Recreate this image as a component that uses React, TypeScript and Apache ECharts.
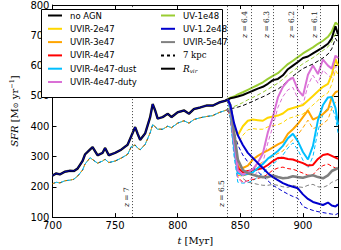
import React, { useEffect, useRef } from 'react';
import * as echarts from 'echarts';

// shared history before the AGN switch-on (t < 840 Myr)
const tPre = [700, 703, 706, 710, 714, 717, 720, 724, 726, 730, 732, 736, 740, 742, 745, 750, 755, 760, 763, 766, 768, 770, 774, 778, 780, 782, 784, 788, 792, 795, 800, 805, 809, 813, 818, 823, 828, 833, 838];
const noAgnPre = [237, 244, 241, 250, 253, 252, 260, 285, 307, 323, 331, 304, 312, 328, 304, 312, 323, 339, 368, 397, 375, 355, 376, 430, 473, 452, 425, 430, 441, 430, 446, 452, 441, 457, 462, 468, 468, 478, 484];
const noAgnPre7 = [210, 215, 213, 220, 222, 225, 235, 255, 275, 296, 290, 278, 285, 291, 280, 285, 295, 307, 333, 338, 328, 322, 340, 378, 405, 398, 390, 390, 400, 395, 410, 418, 410, 422, 428, 432, 435, 445, 452];

// after AGN switch-on
const tPost = [840, 842, 845, 848, 852, 856, 860, 864, 868, 872, 876, 880, 884, 888, 892, 896, 900, 904, 908, 912, 916, 920, 923, 926, 928];
const noAgn = [488, 492, 495, 498, 503, 510, 517, 524, 530, 540, 552, 556, 568, 588, 600, 612, 625, 630, 640, 650, 660, 672, 690, 730, 703];
const noAgn7 = [455, 458, 460, 463, 468, 475, 482, 490, 497, 505, 515, 522, 535, 550, 565, 578, 590, 598, 605, 615, 625, 638, 655, 690, 675];
const uvir2e47 = [488, 470, 400, 370, 400, 418, 422, 420, 418, 428, 432, 435, 442, 455, 460, 465, 470, 485, 500, 515, 530, 540, 570, 622, 600];
const uvir2e47_7 = [455, 440, 372, 342, 370, 388, 392, 390, 390, 398, 402, 405, 412, 425, 430, 435, 440, 455, 470, 485, 500, 510, 538, 585, 570];
const uvir3e47 = [488, 460, 352, 265, 262, 270, 290, 302, 312, 320, 330, 340, 348, 375, 390, 408, 430, 452, 422, 430, 440, 455, 495, 512, 516];
const uvir3e47_7 = [455, 430, 322, 238, 235, 242, 258, 272, 282, 290, 300, 310, 318, 340, 355, 372, 395, 420, 392, 398, 408, 422, 458, 480, 485];
const uvir4e47 = [488, 460, 350, 262, 248, 252, 255, 258, 262, 272, 285, 295, 296, 292, 290, 284, 278, 270, 272, 292, 305, 308, 302, 296, 292];
const uvir4e47_7 = [455, 430, 320, 232, 215, 220, 224, 228, 232, 242, 255, 262, 265, 260, 258, 252, 245, 238, 240, 258, 270, 275, 268, 262, 258];
const uvir4e47dust = [488, 455, 330, 245, 240, 242, 248, 262, 275, 293, 305, 318, 335, 360, 375, 350, 315, 290, 335, 420, 470, 495, 496, 460, 405];
const uvir4e47dust7 = [455, 425, 300, 215, 212, 214, 220, 232, 245, 262, 275, 288, 305, 328, 345, 322, 288, 262, 300, 385, 440, 462, 465, 430, 378];
const uvir4e47duty = [488, 465, 350, 255, 240, 248, 258, 280, 310, 380, 430, 495, 530, 550, 560, 520, 500, 570, 600, 572, 620, 600, 590, 633, 625];
const uvir4e47duty7 = [455, 435, 320, 228, 212, 220, 230, 252, 280, 345, 400, 462, 498, 520, 528, 490, 470, 535, 568, 542, 585, 568, 560, 598, 592];
const uv1e48 = [490, 494, 498, 505, 512, 520, 528, 536, 545, 556, 566, 575, 590, 605, 616, 628, 640, 650, 660, 672, 682, 695, 712, 742, 735];
const uv1e48_7 = [457, 460, 465, 470, 478, 487, 495, 503, 512, 522, 532, 542, 555, 570, 582, 594, 606, 616, 626, 638, 650, 662, 678, 705, 700];
const uv12e48 = [488, 470, 410, 370, 338, 312, 295, 278, 262, 245, 232, 222, 212, 205, 200, 195, 175, 160, 150, 145, 140, 148, 138, 135, 142];
const uv12e48_7 = [455, 440, 380, 338, 305, 282, 265, 250, 235, 220, 205, 195, 185, 176, 168, 162, 135, 128, 122, 118, 115, 112, 110, 108, 112];
const uvir5e47 = [488, 470, 380, 290, 255, 245, 240, 235, 232, 232, 237, 232, 228, 230, 235, 232, 230, 235, 238, 232, 228, 238, 252, 258, 262];
const uvir5e47_7 = [455, 440, 350, 262, 228, 215, 212, 208, 205, 205, 208, 205, 200, 198, 205, 200, 198, 205, 208, 200, 198, 205, 215, 220, 225];

// redshift markers
const zLabels = ['7', '6.5', '6.4', '6.3', '6.2', '6.1'];
const zTimes = [763.8, 839.5, 858.4, 876, 895.7, 913.8];

const xTicks = [700, 750, 800, 850, 900];
const yTicks = [100, 200, 300, 400, 500, 600, 700, 800];

const legendLeft = ['no AGN', 'UVIR-2e47', 'UVIR-3e47', 'UVIR-4e47', 'UVIR-4e47-dust', 'UVIR-4e47-duty'];
const legendRight = ['UV-1e48', 'UV-1.2e48', 'UVIR-5e47', '7 kpc', 'R_vir'];

const zip = (t: number[], v: number[]) => t.map((x, i) => [x, v[i]]);
const tFull = tPre.concat(tPost);

function line(name: string, t: number[], v: number[], color: string, width: number, dashed = false, extra: any = {}) {
  return {
    type: 'line',
    name,
    data: zip(t, v),
    symbol: 'none',
    showSymbol: false,
    silent: true,
    lineStyle: { color, width, type: dashed ? [4, 2.5] : 'solid', ...(extra.lineStyle || {}) },
    itemStyle: { color },
    z: extra.z ?? 2,
    ...(extra.markLine ? { markLine: extra.markLine } : {}),
  };
}

const C = {
  black: '#000000',
  yellow: '#FFD700',
  orange: '#FFA500',
  red: '#FF0000',
  dust: '#00BFFF',
  duty: '#DA70D6',
  green: '#9ACD32',
  blue: '#0000CD',
  gray: '#808080',
};

export default function App() {
  const ref = useRef<HTMLDivElement>(null);
  useEffect(() => {
    if (!ref.current) return;
    const chart = echarts.init(ref.current, null, { renderer: 'svg' });
    const serif = 'DejaVu Serif';
    const sans = 'DejaVu Sans';

    const markLine = {
      silent: true,
      symbol: 'none',
      lineStyle: { color: '#444', width: 1, type: [1, 2] },
      label: { show: false },
      data: zTimes.map((t, i) => ({
        xAxis: t,
        label: {
          show: true,
          position: i < 2 ? 'insideStartTop' : 'insideEndTop',
          distance: i < 2 ? [10, 2] : [6, 2],
          formatter: '{i|z} = ' + zLabels[i],
          fontFamily: serif,
          fontSize: 7.5,
          color: '#222',
          rich: { i: { fontStyle: 'italic', fontFamily: serif, fontSize: 7.5, color: '#222' } },
        },
      })),
    };

    const series: any[] = [
      // dashed 7 kpc lines
      line('noAGN-7', tFull, noAgnPre7.concat(noAgn7), C.black, 1, true, { markLine }),
      line('UVIR-3e47-7', tFull, noAgnPre7.concat(uvir3e47_7), C.orange, 1, true, { lineStyle: { dashOffset: 2 } }),
      line('UVIR-4e47-dust-7', tFull, noAgnPre7.concat(uvir4e47dust7), C.dust, 1, true, { lineStyle: { dashOffset: 4 } }),
      line('UVIR-2e47-7', tPost, uvir2e47_7, C.yellow, 1, true),
      line('UVIR-4e47-7', tPost, uvir4e47_7, C.red, 1, true),
      line('UVIR-4e47-duty-7', tPost, uvir4e47duty7, C.duty, 1, true),
      line('UV-1e48-7', tPost, uv1e48_7, C.green, 1, true),
      line('UV-1.2e48-7', tPost, uv12e48_7, C.blue, 1, true),
      line('UVIR-5e47-7', tPost, uvir5e47_7, C.gray, 1, true),
      // solid R_vir lines
      line('UVIR-2e47', tPost, uvir2e47, C.yellow, 2),
      line('UVIR-3e47', tPost, uvir3e47, C.orange, 2),
      line('UVIR-4e47', tPost, uvir4e47, C.red, 2),
      line('UVIR-4e47-dust', tPost, uvir4e47dust, C.dust, 2),
      line('UVIR-4e47-duty', tPost, uvir4e47duty, C.duty, 2),
      line('UVIR-5e47', tFull, noAgnPre.concat(uvir5e47), C.gray, 2.6),
      line('UV-1e48', tPost, uv1e48, C.green, 2),
      line('no AGN', tFull, noAgnPre.concat(noAgn), C.black, 2),
      line('UV-1.2e48', tPost, uv12e48, C.blue, 2),
      line('UV-1.2e48-early', tPre.concat([840]), noAgnPre.concat([uv12e48[0]]), C.blue, 0.9),
      // legend-only style keys
      { type: 'line', name: '7 kpc', data: [], symbol: 'none', lineStyle: { color: '#000', width: 1, type: [3, 3] }, itemStyle: { color: '#000' } },
      { type: 'line', name: 'R_vir', data: [], symbol: 'none', lineStyle: { color: '#000', width: 1 }, itemStyle: { color: '#000' } },
    ];

    const legendText = {
      fontFamily: sans,
      fontSize: 8.5,
      color: '#000',
      lineHeight: 10,
      padding: [0, 0, 0, 3],
      rich: {
        i: { fontFamily: serif, fontStyle: 'italic', fontSize: 9, color: '#000' },
        s: { fontFamily: serif, fontStyle: 'italic', fontSize: 5.5, color: '#000', padding: [4, 0, 0, 0] },
        r: { fontFamily: serif, fontSize: 8.5, color: '#000' },
      },
    };
    const legendFormatter = (n: string) => (n === 'R_vir' ? '{i|R}{s|vir}' : n === '7 kpc' ? '{r|7 kpc}' : n);
    const legendItemStyle = { color: 'transparent', borderWidth: 0, opacity: 0 };

    const axisCommon = {
      axisLine: { show: true, lineStyle: { color: '#000', width: 1 } },
      axisTick: { show: true, inside: true, length: 4, lineStyle: { color: '#000' } },
      splitLine: { show: false },
    };

    chart.setOption({
      animation: false,
      backgroundColor: '#fff',
      grid: { left: 37, right: 2, top: 4, bottom: 27, containLabel: false },
      xAxis: [
        {
          type: 'value', min: 700, max: 928, interval: 50, position: 'bottom',
          ...axisCommon,
          axisLabel: {
            fontFamily: sans, fontSize: 10, color: '#000', margin: 3,
            formatter: (v: number) => (xTicks.includes(v) ? String(v) : ''),
          },
          name: '{i|t} [Myr]',
          nameLocation: 'middle',
          nameGap: 14,
          nameTextStyle: {
            fontFamily: serif, fontSize: 10, color: '#000',
            rich: { i: { fontFamily: serif, fontStyle: 'italic', fontSize: 10, color: '#000' } },
          },
        },
        { type: 'value', min: 700, max: 928, interval: 50, position: 'top', ...axisCommon, axisLabel: { show: false } },
      ],
      yAxis: [
        {
          type: 'value', min: 100, max: 800, interval: 100, position: 'left',
          ...axisCommon,
          axisLabel: {
            fontFamily: sans, fontSize: 10, color: '#000', margin: 3,
            formatter: (v: number) => (yTicks.includes(v) ? String(v) : ''),
          },
          name: '{i|SFR} [M{s|⊙} yr{p|−1}]',
          nameLocation: 'middle',
          nameRotate: 90,
          nameGap: 26,
          nameTextStyle: {
            fontFamily: serif, fontSize: 10, color: '#000',
            rich: {
              i: { fontFamily: serif, fontStyle: 'italic', fontSize: 10, color: '#000' },
              s: { fontFamily: serif, fontSize: 7, color: '#000', padding: [4, 0, 0, 0] },
              p: { fontFamily: serif, fontSize: 6.5, color: '#000', padding: [0, 0, 5, 0] },
            },
          },
        },
        { type: 'value', min: 100, max: 800, interval: 100, position: 'right', ...axisCommon, axisLabel: { show: false } },
      ],
      legend: [
        {
          data: legendLeft, orient: 'vertical', left: 47, top: 10.5, padding: 0,
          itemWidth: 14, itemHeight: 8, itemGap: 3.3, selectedMode: false, z: 20,
          itemStyle: legendItemStyle,
          textStyle: legendText, formatter: legendFormatter,
        },
        {
          data: legendRight, orient: 'vertical', left: 160, top: 10.5, padding: 0,
          itemWidth: 14, itemHeight: 8, itemGap: 3.3, selectedMode: false, z: 20,
          itemStyle: legendItemStyle,
          textStyle: legendText, formatter: legendFormatter,
        },
      ],
      graphic: [
        {
          type: 'rect', z: 15, silent: true,
          shape: { x: 41.5, y: 9.5, width: 181, height: 88 },
          style: { fill: '#fff', stroke: '#000', lineWidth: 1 },
        },
      ],
      series,
    });
    return () => chart.dispose();
  }, []);
  return <div ref={ref} style={{ width: 341, height: 250, position: 'absolute', left: 0, top: 0 }} />;
}
